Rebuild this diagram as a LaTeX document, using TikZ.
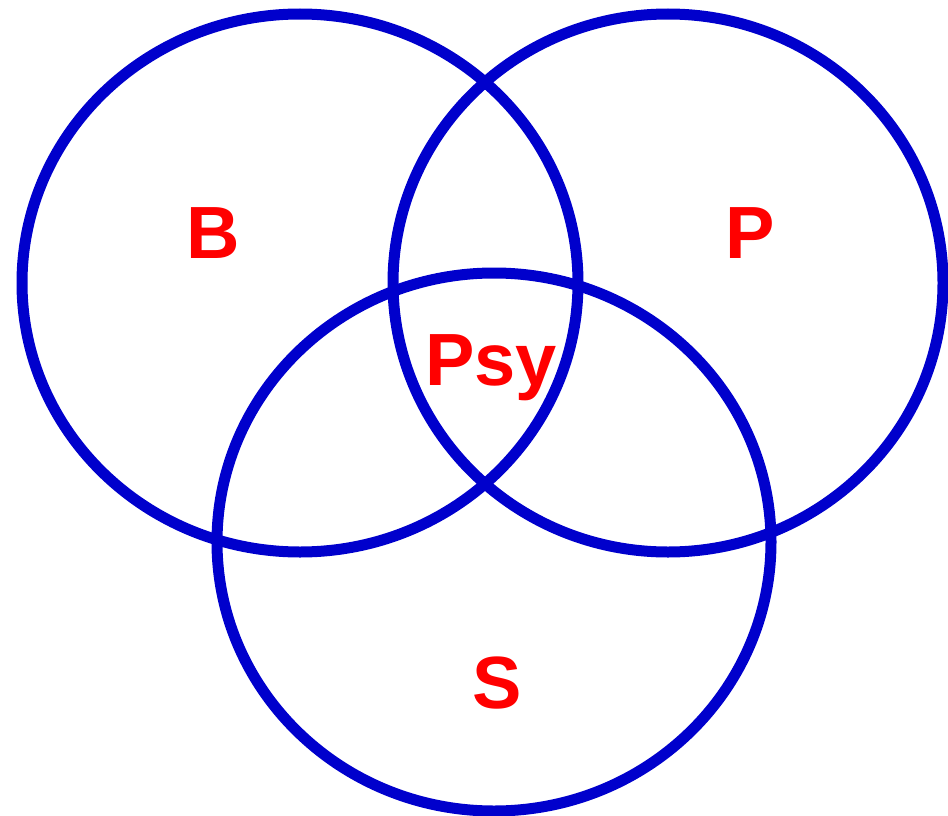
\documentclass[tikz,border=0pt]{standalone}
\usepackage{fontspec}
\setmainfont{Liberation Sans}
\definecolor{ringblue}{RGB}{0,0,204}
\definecolor{labred}{RGB}{255,0,0}
\begin{document}
\begin{tikzpicture}[x=1pt,y=-1pt,
  ring/.style={draw=ringblue,line width=11pt,ellipse},
  lab/.style={text=labred,font=\fontsize{74}{80}\selectfont\bfseries,anchor=base,inner sep=0pt}]
\useasboundingbox (0,0) rectangle (948,816);
\draw[draw=ringblue,line width=11pt] (300,283) ellipse [x radius=278,y radius=269];
\draw[draw=ringblue,line width=11pt] (668,283) ellipse [x radius=275,y radius=269];
\draw[draw=ringblue,line width=11pt] (494,542) ellipse [x radius=277,y radius=269];
\node[lab] (b) at (213,258) {B};
\node[lab] (p) at (750,258) {P};
\node[lab] (s) at (497,708) {S};
\node[lab] (psy) at (491,385) {Psy};
\end{tikzpicture}
\end{document}
